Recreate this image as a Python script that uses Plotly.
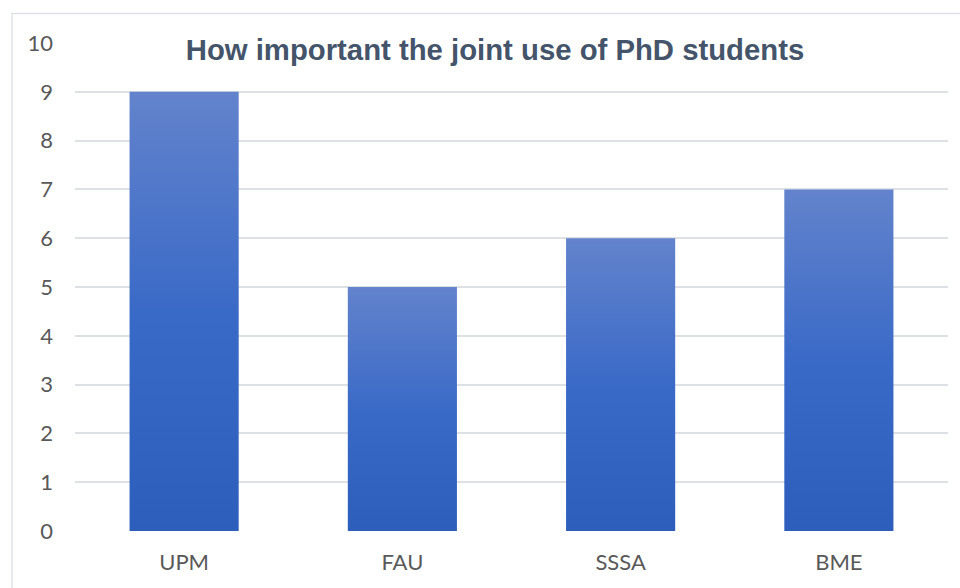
import plotly.graph_objects as go

categories = ["UPM", "FAU", "SSSA", "BME"]
values = [9, 5, 6, 7]
y_ticks = list(range(0, 11))
title_text = "How important the joint use of PhD students"

bar_width = 0.5
grad = [[0.0, "#2E5EBB"], [0.5, "#3A6AC7"], [1.0, "#6383CC"]]

fig = go.Figure()
for i, (cat, v) in enumerate(zip(categories, values)):
    x0, x1 = i - bar_width / 2, i + bar_width / 2
    fig.add_trace(go.Scatter(
        x=[x0, x1, x1, x0, x0], y=[0, 0, v, v, 0],
        fill="toself", mode="lines", line=dict(width=0, color="rgba(0,0,0,0)"),
        fillgradient=dict(type="vertical", colorscale=grad),
        name=cat, showlegend=False, hoverinfo="skip",
    ))

W, H = 960, 588
L, R, T, B = 75, 12, 42.5, 57
pw, ph = W - L - R, H - T - B

fig.update_layout(
    width=W, height=H,
    margin=dict(l=L, r=R, t=T, b=B),
    paper_bgcolor="white", plot_bgcolor="white",
    title=dict(text="<b>" + title_text + "</b>", x=(495) / W, xanchor="center",
               y=1 - 50 / H, yanchor="middle",
               font=dict(family="Liberation Sans", size=29.3, color="#44546A")),
    xaxis=dict(range=[-0.5, len(categories) - 0.5], tickvals=list(range(len(categories))),
               ticktext=categories, showgrid=False, zeroline=False, showline=False,
               tickfont=dict(family="Lato", size=22, color="#595959"), ticklabelstandoff=16,
               fixedrange=True),
    yaxis=dict(range=[0, 10], tickvals=y_ticks, showgrid=True, gridcolor="#DDE1E6", gridwidth=2,
               zeroline=False, showline=False,
               tickfont=dict(family="Lato", size=22, color="#595959"), ticklabelstandoff=21),
    shapes=[dict(type="rect", xref="paper", yref="paper",
                 x0=(12 - L) / pw, x1=(W + 20 - L) / pw,
                 y0=-(B + 20) / ph, y1=1 + (T - 13) / ph,
                 line=dict(color="#DDE1E6", width=1.5), layer="below")],
)

fig.write_html("out.html")
